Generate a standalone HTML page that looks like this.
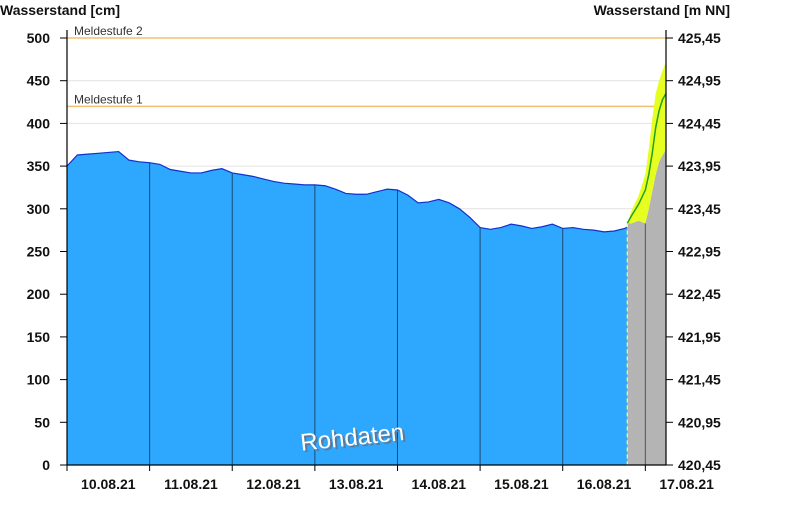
<!DOCTYPE html>
<html><head><meta charset="utf-8"><style>
body{margin:0;background:#fff;}
svg{display:block;font-family:"Liberation Sans",Arial,sans-serif;}
</style></head><body>
<svg id="c" width="792" height="532"></svg>
<script>
// observed values (cm), every 3 hours from 10.08.21 00:00
const obsValues=[350,363,364,365,366,367,357,355,354,352,
346,344,342,342,345,347,342,340,
338,335,332,330,329,328,328,327,
323,318,317,317,320,323,322,316,
307,308,311,307,300,290,278,276,
278,282,280,277,279,282,277,278,
276,275,273,274,277,283];
const obsStepHours=3;
// forecast: hours relative to 17.08.21 00:00
const fcHours=[-5.25,-4,-2,0,1,2,3,4,5,6];
const fcMid=[283,292,305,322,340,365,395,415,428,435];
const fcUpper=[283,298,315,340,370,405,435,450,462,472];
const fcLower=[283,283,286,283,300,320,340,355,363,369];
const leftTicks=[0,50,100,150,200,250,300,350,400,450,500];
const rightTicks=["420,45","420,95","421,45","421,95","422,45","422,95","423,45","423,95","424,45","424,95","425,45"];
const dayLabels=["10.08.21","11.08.21","12.08.21","13.08.21","14.08.21","15.08.21","16.08.21","17.08.21"];
const levels=[{v:500,name:"Meldestufe 2"},{v:420,name:"Meldestufe 1"}];

const X0=67,X1=666,Y0=465,Y500=38,DAYS=7.25;
const xs=h=>X0+(h/24)*(X1-X0)/DAYS;
const ys=v=>Y0-v*(Y0-Y500)/500;
const svg=document.getElementById('c');
const NS="http://www.w3.org/2000/svg";
function mk(t,a,p){const e=document.createElementNS(NS,t);for(const k in a)e.setAttribute(k,a[k]);(p||svg).appendChild(e);return e;}
function interp(hs,vs,h){for(let i=0;i<hs.length-1;i++){if(h>=hs[i]&&h<=hs[i+1]){return vs[i]+(vs[i+1]-vs[i])*(h-hs[i])/(hs[i+1]-hs[i]);}}return vs[vs.length-1];}

// grid
leftTicks.forEach(v=>{if(v>0&&v<500){const g=mk('line',{x1:X0,x2:X1,y1:ys(v),y2:ys(v),stroke:'#e2e2e2'});

}});
levels.forEach(l=>{const ln=mk('line',{x1:X0,x2:X1,y1:ys(l.v),y2:ys(l.v),stroke:'#f0c070','stroke-width':1.5});


const t=mk('text',{x:74,y:ys(l.v)-3,'font-size':12,fill:'#333'});t.textContent=l.name;

});

// observed area
const obsHours=obsValues.map((v,i)=>i*obsStepHours);
let pts=obsValues.map((v,i)=>[xs(obsHours[i]),ys(v)]);
const lastH=obsHours[obsHours.length-1];
let d='M'+X0+','+Y0+' '+pts.map(p=>'L'+p[0]+','+p[1]).join(' ');
d+=' L'+xs(lastH)+','+Y0+' Z';
const area=mk('path',{d:d,fill:'#2ea8ff'});


const line=mk('polyline',{points:pts.map(p=>p.join(',')).join(' '),fill:'none',stroke:'#1030d0','stroke-width':1.2});



// forecast
const fx=fcHours.map(h=>xs(168+h));
let gd='M'+fx[0]+','+Y0+' '+fcLower.map((v,i)=>'L'+fx[i]+','+ys(v)).join(' ')+' L'+fx[fx.length-1]+','+Y0+' Z';
const gray=mk('path',{d:gd,fill:'#b4b4b4'});


let bd='M'+fcUpper.map((v,i)=>fx[i]+','+ys(v)).join(' L')+' L'+fcLower.map((v,i)=>fx[i]+','+ys(v)).reverse().join(' L')+' Z';
const band=mk('path',{d:bd,fill:'#e6ff20'});


const mid=mk('polyline',{points:fcMid.map((v,i)=>fx[i]+','+ys(v)).join(' '),fill:'none',stroke:'#20a020','stroke-width':1.5});


const dash=mk('line',{x1:fx[0],x2:fx[0],y1:ys(fcMid[0]),y2:Y0,stroke:'#ffff60','stroke-dasharray':'4,3','stroke-width':1.2});



// day lines (only inside filled area)
for(let i=1;i<=7;i++){const x=xs(i*24);
let top;
if(i*24<=lastH){top=interp(obsHours,obsValues,i*24);}else{top=interp(fcHours,fcLower,i*24-168);}
const ln=mk('line',{x1:x,x2:x,y1:ys(top),y2:Y0,stroke:i<7?'#1a4a70':'#555','stroke-width':1});

}

// axes
const ax=mk('path',{d:`M${X0},${Y500-8}V${Y0}H${X1}M${X1},${Y500-8}V${Y0}`,stroke:'#000',fill:'none','stroke-width':1.2});


leftTicks.forEach((v,i)=>{const y=ys(v);
mk('line',{x1:X0-7,x2:X0,y1:y,y2:y,stroke:'#000'});
mk('line',{x1:X1,x2:X1+7,y1:y,y2:y,stroke:'#000'});
const t=mk('text',{x:50,y:y+5,'font-size':14,'font-weight':'bold','text-anchor':'end',fill:'#111'});t.textContent=v;


const r=mk('text',{x:678,y:y+5,'font-size':14,'font-weight':'bold',fill:'#111'});r.textContent=rightTicks[i];

});
for(let i=0;i<=7;i++){const x=xs(i*24);mk('line',{x1:x,x2:x,y1:Y0,y2:Y0+6,stroke:'#000'});}
dayLabels.forEach((s,i)=>{const t=mk('text',{x:xs(i*24+12),y:Y0+24,'font-size':14,'font-weight':'bold','text-anchor':'middle',fill:'#111'});t.textContent=s;

});
const tl=mk('text',{x:0,y:15,'font-size':14,'font-weight':'bold',fill:'#111'});tl.textContent='Wasserstand [cm]';


const tr=mk('text',{x:730,y:15,'font-size':14,'font-weight':'bold','text-anchor':'end',fill:'#111'});tr.textContent='Wasserstand [m NN]';


const sh=mk('text',{x:302,y:446,'font-size':24,fill:'#5a7a9a',transform:'rotate(-6 365 435)'});sh.textContent='Rohdaten';


const rt=mk('text',{x:300,y:444,'font-size':24,fill:'#ffffff',transform:'rotate(-6 365 435)'});rt.textContent='Rohdaten';


</script>
</body></html>
